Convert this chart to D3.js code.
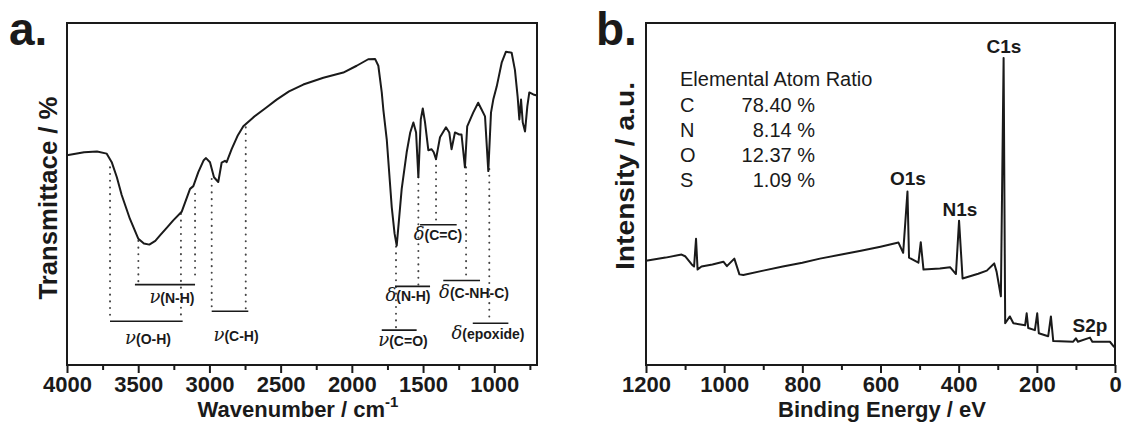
<!DOCTYPE html>
<html>
<head>
<meta charset="utf-8">
<script src="https://cdn.jsdelivr.net/npm/d3@7/dist/d3.min.js"></script>
<style>
  body { margin: 0; background: #fff; }
  text { font-family: Arial, "Liberation Sans", sans-serif; fill: #1a1a1a; }
</style>
</head>
<body>
<svg id="chart" width="1123" height="422"></svg>
<script>
// ---- panel a : FTIR ----
const ftirWavenumber = [4000, 3880, 3789, 3721, 3686, 3650, 3616, 3558, 3499, 3460, 3422, 3380, 3347, 3300, 3254, 3195,
  3136, 3113, 3078, 3040, 3024, 2996, 2968, 2938, 2914, 2891, 2879, 2844, 2800, 2762, 2692, 2600, 2528, 2441, 2341,
  2200, 2060, 1966, 1885, 1837, 1814, 1790, 1779, 1755, 1720, 1700, 1685, 1650, 1615, 1590, 1568, 1549, 1533, 1516,
  1502, 1486, 1463, 1440, 1425, 1409, 1381, 1339, 1316, 1300, 1276, 1246, 1230, 1206, 1190, 1148, 1113, 1089, 1065,
  1042, 1023, 1007, 983, 948, 918, 878, 855, 836, 824, 812, 800, 784, 768, 754, 726, 700];
const ftirTransmittance = [61.3, 62.2, 62.4, 61.8, 59.3, 54.9, 49.7, 42.7, 36.9, 35.5, 35.2, 36.3, 37.9, 40.1, 42.3, 44.8,
  51.5, 52.3, 56.4, 59.9, 60.5, 59.3, 54.9, 53.5, 59.2, 59.7, 59.3, 63.1, 67.2, 69.8, 72.4, 75.3, 77.6, 80.0, 82.0,
  84.0, 85.5, 87.5, 89.4, 89.5, 87.5, 79.7, 74.7, 66.0, 46.2, 38.4, 34.9, 51.5, 62.2, 68.0, 70.9, 68.0, 54.9, 71.8,
  75.0, 70.9, 62.8, 63.1, 62.2, 60.2, 66.6, 69.5, 68.0, 63.1, 68.0, 67.4, 67.4, 57.8, 69.8, 73.8, 76.7, 74.7, 72.7,
  56.7, 73.8, 77.6, 81.4, 88.4, 91.6, 91.3, 86.3, 78.5, 71.8, 77.6, 70.9, 68.3, 75.6, 79.7, 79.1, 78.8];
const irTicks = [4000, 3500, 3000, 2500, 2000, 1500, 1000];
const irMinorTicks = [3750, 3250, 2750, 2250, 1750, 1250, 750];

// dotted drop lines (wavenumber, top and bottom in transmittance)
const markerWn = [3698, 3499, 3200, 3101, 2984, 2745, 1690, 1533, 1409, 1198, 1035];
const markerTop = [57.8, 36.3, 44.2, 50.0, 54.4, 69.5, 34.6, 54.9, 60.2, 57.8, 57.3];
const markerBottom = [14.5, 24.4, 14.5, 25.9, 16.6, 16.0, 10.8, 23.0, 41.3, 24.7, 14.0];

// band assignments
const bandSymbols = ["ν", "ν", "ν", "ν", "δ", "δ", "δ", "δ"];
const bandGroups = ["(O-H)", "(N-H)", "(C-H)", "(C=O)", "(N-H)", "(C=C)", "(C-NH-C)", "(epoxide)"];
const bandFrom = [3698, 3523, 2984, 1790, 1697, 1521, 1358, 1151];
const bandTo = [3188, 3101, 2727, 1545, 1451, 1264, 1100, 901];
const bandLevel = [12.8, 23.5, 15.7, 10.2, 23.0, 41.0, 24.7, 12.2];
const bandLabelWn = [3431, 3263, 2813, 1641, 1606, 1395, 1142, 1044];
const bandLabelLevel = [6.1, 18.0, 7.0, 5.5, 18.6, 36.6, 19.5, 7.6];

// ---- panel b : XPS ----
const xpsEnergy = [1200, 1150, 1109, 1100, 1083, 1077, 1072, 1068, 1058, 1030, 1002, 993, 974, 961, 951, 900, 850, 800,
  755, 700, 650, 600, 554, 542, 531, 527, 503, 497, 490, 448, 422, 407, 399, 390, 350, 328, 309, 303, 292, 285, 281,
  269, 260, 230, 226, 222, 205, 199, 195, 171, 164, 158, 107, 100, 95, 64, 58, 13, 3, 0];
const xpsIntensity = [30.5, 31.4, 32.3, 31.8, 29.4, 28.8, 36.9, 27.9, 28.8, 29.4, 30.2, 28.9, 31.1, 26.5, 26.3, 27.6, 28.8,
  29.9, 31.1, 32.3, 33.4, 34.6, 35.8, 32.8, 50.7, 31.4, 29.9, 35.9, 27.9, 28.2, 28.6, 26.6, 42.2, 25.3, 26.7, 27.6,
  29.7, 27.3, 20.1, 89.8, 12.2, 14.2, 12.2, 11.6, 15.1, 10.8, 10.2, 15.1, 9.3, 8.4, 14.2, 7.0, 6.8, 7.8, 6.8, 8.0,
  6.8, 6.8, 5.4, 5.2];
const xpsTicks = [1200, 1000, 800, 600, 400, 200, 0];
const xpsMinorTicks = [1100, 900, 700, 500, 300, 100];

const peakNames = ["C1s", "O1s", "N1s", "S2p"];
const peakLabelEnergy = [284, 530, 397, 64];
const peakLabelLevel = [91.3, 52.6, 43.6, 9.6];

const atomElements = ["C", "N", "O", "S"];
const atomRatios = [78.40, 8.14, 12.37, 1.09];

const svg = d3.select("#chart");
const ink = "#1a1a1a";
const plotTop = 23, plotBottom = 365;

function drawFrame(g, x0, x1) {
  g.append("rect")
    .attr("x", x0).attr("y", plotTop)
    .attr("width", x1 - x0).attr("height", plotBottom - plotTop)
    .attr("fill", "none").attr("stroke", ink).attr("stroke-width", 2);
}

function drawAxis(g, scale, major, minor) {
  const axis = d3.axisBottom(scale).tickValues(major).tickSize(8).tickPadding(3).tickFormat(d3.format("d"));
  const ax = g.append("g").attr("transform", `translate(0,${plotBottom})`).call(axis);
  ax.select(".domain").remove();
  ax.selectAll("line").attr("stroke", ink).attr("stroke-width", 2);
  ax.selectAll("text").attr("font-size", 22).attr("font-weight", "bold").attr("fill", ink)
    .style("font-family", "Arial, 'Liberation Sans', sans-serif");

  const minorAxis = d3.axisBottom(scale).tickValues(minor).tickSize(5).tickFormat("");
  const mx = g.append("g").attr("transform", `translate(0,${plotBottom})`).call(minorAxis);
  mx.select(".domain").remove();
  mx.selectAll("line").attr("stroke", ink).attr("stroke-width", 2);
}

// ================= panel a =================
const xA = d3.scaleLinear().domain([4000, 700]).range([67, 537]);
const yA = d3.scaleLinear().domain([0, 100]).range([plotBottom, plotTop]);
const gA = svg.append("g");

const ftir = ftirWavenumber.map((w, i) => [w, ftirTransmittance[i]]);

// dotted drop lines
gA.selectAll(".marker")
  .data(markerWn)
  .enter()
  .append("line")
  .attr("x1", d => xA(d)).attr("x2", d => xA(d))
  .attr("y1", (d, i) => yA(markerTop[i]))
  .attr("y2", (d, i) => yA(markerBottom[i]))
  .attr("stroke", "#444")
  .attr("stroke-width", 2)
  .attr("stroke-linecap", "round")
  .attr("stroke-dasharray", "0.1,6.6");

// bracket lines
gA.selectAll(".bracket")
  .data(bandFrom)
  .enter()
  .append("line")
  .attr("x1", d => xA(d))
  .attr("x2", (d, i) => xA(bandTo[i]))
  .attr("y1", (d, i) => yA(bandLevel[i]))
  .attr("y2", (d, i) => yA(bandLevel[i]))
  .attr("stroke", ink)
  .attr("stroke-width", 1.6);

const bandText = gA.selectAll(".band")
  .data(bandGroups)
  .enter()
  .append("text")
  .attr("x", (d, i) => xA(bandLabelWn[i]))
  .attr("y", (d, i) => yA(bandLabelLevel[i]))
  .attr("text-anchor", "middle");
bandText.append("tspan")
  .text((d, i) => bandSymbols[i])
  .attr("font-size", 18)
  .attr("font-style", "italic")
  .style("font-family", "'DejaVu Serif', 'Liberation Serif', serif");
bandText.append("tspan")
  .text(d => d)
  .attr("font-size", 14)
  .attr("font-weight", "bold");

gA.append("path")
  .datum(ftir)
  .attr("fill", "none")
  .attr("stroke", ink)
  .attr("stroke-width", 2)
  .attr("stroke-linejoin", "round")
  .attr("d", d3.line().x(d => xA(d[0])).y(d => yA(d[1])));

drawFrame(gA, 67, 537);
drawAxis(gA, xA, irTicks, irMinorTicks);

const titleA = gA.append("text")
  .attr("x", 298).attr("y", 417)
  .attr("text-anchor", "middle")
  .attr("font-size", 22).attr("font-weight", "bold");
titleA.append("tspan").text("Wavenumber / cm");
titleA.append("tspan").text("-1").attr("font-size", 15).attr("dy", -10);

gA.append("text")
  .attr("transform", "translate(57,198) rotate(-90)")
  .attr("text-anchor", "middle")
  .attr("font-size", 25).attr("font-weight", "bold")
  .attr("textLength", 203).attr("lengthAdjust", "spacingAndGlyphs")
  .text("Transmittace / %");

gA.append("text")
  .attr("x", 9).attr("y", 45)
  .attr("font-size", 46).attr("font-weight", "bold")
  .text("a.");

// ================= panel b =================
const xB = d3.scaleLinear().domain([1200, 0]).range([646, 1115]);
const yB = d3.scaleLinear().domain([0, 100]).range([plotBottom, plotTop]);
const gB = svg.append("g");

const xps = xpsEnergy.map((e, i) => [e, xpsIntensity[i]]);

gB.append("path")
  .datum(xps)
  .attr("fill", "none")
  .attr("stroke", ink)
  .attr("stroke-width", 2)
  .attr("stroke-linejoin", "round")
  .attr("d", d3.line().x(d => xB(d[0])).y(d => yB(d[1])));

gB.selectAll(".peak")
  .data(peakNames)
  .enter()
  .append("text")
  .attr("x", (d, i) => xB(peakLabelEnergy[i]))
  .attr("y", (d, i) => yB(peakLabelLevel[i]))
  .attr("text-anchor", "middle")
  .attr("font-size", 19)
  .attr("font-weight", "bold")
  .text(d => d);

// atom ratio table
gB.append("text")
  .attr("x", 680).attr("y", 86)
  .attr("font-size", 20)
  .text("Elemental Atom Ratio");
gB.selectAll(".elem")
  .data(atomElements)
  .enter()
  .append("text")
  .attr("x", 680)
  .attr("y", (d, i) => 112 + i * 25)
  .attr("font-size", 20)
  .text(d => d);
gB.selectAll(".ratio")
  .data(atomRatios)
  .enter()
  .append("text")
  .attr("x", 815)
  .attr("y", (d, i) => 112 + i * 25)
  .attr("text-anchor", "end")
  .attr("font-size", 20)
  .text(d => d.toFixed(2) + " %");

drawFrame(gB, 646, 1115);
drawAxis(gB, xB, xpsTicks, xpsMinorTicks);

gB.append("text")
  .attr("x", 882).attr("y", 417)
  .attr("text-anchor", "middle")
  .attr("font-size", 22).attr("font-weight", "bold")
  .text("Binding Energy / eV");

gB.append("text")
  .attr("transform", "translate(634,176) rotate(-90)")
  .attr("text-anchor", "middle")
  .attr("font-size", 25).attr("font-weight", "bold")
  .attr("textLength", 188).attr("lengthAdjust", "spacingAndGlyphs")
  .text("Intensity / a.u.");

gB.append("text")
  .attr("x", 596).attr("y", 45)
  .attr("font-size", 46).attr("font-weight", "bold")
  .text("b.");
</script>
</body>
</html>
